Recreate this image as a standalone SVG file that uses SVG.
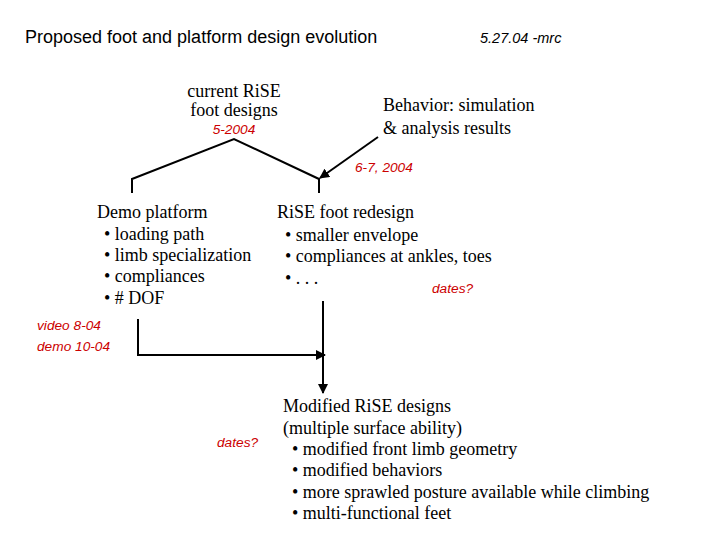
<svg xmlns="http://www.w3.org/2000/svg" width="720" height="540" viewBox="0 0 720 540">
<defs>
<style>
.t{font-family:"Liberation Serif","Times New Roman",serif;font-size:18px;fill:#000}
.r{font-family:"Liberation Sans",Arial,sans-serif;font-size:13.7px;font-style:italic;fill:#cc0000}
.ln{stroke:#000;stroke-width:2;fill:none}
</style>
<marker id="ah" markerWidth="10" markerHeight="10" refX="9" refY="5" orient="auto" markerUnits="userSpaceOnUse">
<path d="M0,0 L10,5 L0,10 Z" fill="#000"/>
</marker>
</defs>
<rect width="720" height="540" fill="#fff"/>
<text x="25" y="43" font-family="Liberation Sans, Arial, sans-serif" font-size="18">Proposed foot and platform design evolution</text>
<text x="480" y="43" font-family="Liberation Sans, Arial, sans-serif" font-size="14.5" font-style="italic">5.27.04 -mrc</text>
<g id="current">
<text class="t" x="234" y="97" text-anchor="middle">current RiSE</text>
<text class="t" x="234" y="116" text-anchor="middle">foot designs</text>
<text class="r" x="234" y="134" text-anchor="middle">5-2004</text>
</g>
<g id="behavior">
<text class="t" x="383" y="111">Behavior: simulation</text>
<text class="t" x="383" y="134">&amp; analysis results</text>
</g>
<g id="demo">
<text class="t" x="97" y="218">Demo platform</text>
<text class="t" x="104" y="240">• loading path</text>
<text class="t" x="104" y="261">• limb specialization</text>
<text class="t" x="104" y="282">• compliances</text>
<text class="t" x="104" y="304">• # DOF</text>
</g>
<g id="redesign">
<text class="t" x="277" y="218">RiSE foot redesign</text>
<text class="t" x="285" y="241">• smaller envelope</text>
<text class="t" x="285" y="262">• compliances at ankles, toes</text>
<text class="t" x="285" y="284">• . . .</text>
</g>
<g id="modified">
<text class="t" x="283" y="412">Modified RiSE designs</text>
<text class="t" x="283" y="434">(multiple surface ability)</text>
<text class="t" x="292" y="455">• modified front limb geometry</text>
<text class="t" x="292" y="476">• modified behaviors</text>
<text class="t" x="292" y="498">• more sprawled posture available while climbing</text>
<text class="t" x="292" y="519">• multi-functional feet</text>
</g>
<g id="labels">
<text class="r" x="355" y="172">6-7, 2004</text>
<text class="r" x="432" y="293">dates?</text>
<text class="r" x="37" y="330">video 8-04</text>
<text class="r" x="37" y="351">demo 10-04</text>
<text class="r" x="217" y="447">dates?</text>
</g>
<g id="connectors">
<polyline class="ln" points="132,193 132,179 234,139 319,179 319,193"/>
<line class="ln" x1="378" y1="137" x2="320" y2="178" marker-end="url(#ah)"/>
<polyline class="ln" points="138,319 138,355 325,355" marker-end="url(#ah)"/>
<line class="ln" x1="323" y1="301" x2="323" y2="393" marker-end="url(#ah)"/>
</g>
</svg>
